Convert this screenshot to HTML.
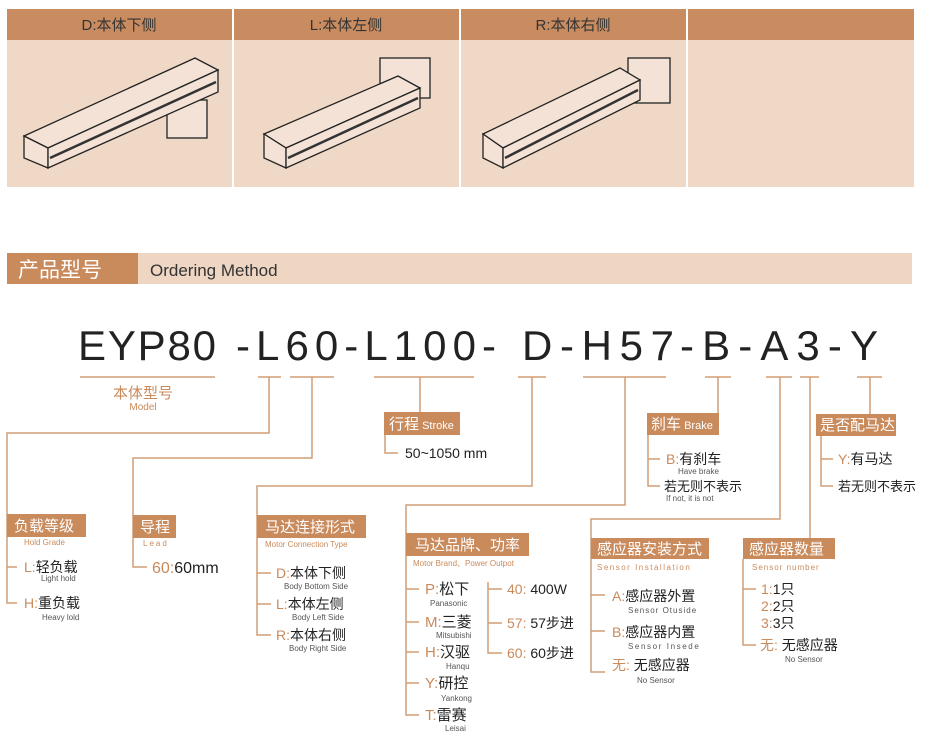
<!DOCTYPE html>
<html><head><meta charset="utf-8"><style>
html,body{margin:0;padding:0;background:#fff;width:925px;height:734px;overflow:hidden}
svg{display:block}
text{font-family:"Liberation Sans","Noto Sans CJK SC",sans-serif}
.h{font-size:15px;fill:#333;text-anchor:middle}
.w{fill:#fff;font-size:15px}
.t{fill:#c98a5c}
.k{fill:#222}
.s{font-size:8px;fill:#555}
.st{font-size:8px;fill:#c98a5c}
.ln{stroke:#d29e77;stroke-width:1.5;fill:none}
.dr{stroke:#222;stroke-width:1.3;fill:#f3e2d5}
.dk{stroke:#333;stroke-width:2.5;fill:none}
</style></head><body>
<svg width="925" height="734" viewBox="0 0 925 734">
<g>
<rect x="7" y="9" width="225" height="31" fill="#c98c60"/><rect x="7" y="40" width="225" height="147" fill="#efd8c6"/>
<rect x="234" y="9" width="225" height="31" fill="#c98c60"/><rect x="234" y="40" width="225" height="147" fill="#efd8c6"/>
<rect x="461" y="9" width="225" height="31" fill="#c98c60"/><rect x="461" y="40" width="225" height="147" fill="#efd8c6"/>
<rect x="688" y="9" width="226" height="31" fill="#c98c60"/><rect x="688" y="40" width="226" height="147" fill="#efd8c6"/>
<text x="119" y="30" class="h">D:本体下侧</text>
<text x="346" y="30" class="h">L:本体左侧</text>
<text x="573" y="30" class="h">R:本体右侧</text>
</g>
<g>
<rect x="167" y="100" width="40" height="38" class="dr" fill="#eee"/>
<polygon points="24,136 195,58 218,70 48,148" class="dr"/>
<polygon points="24,136 48,148 48,168 24,158" class="dr"/>
<polygon points="48,148 218,70 218,92 48,168" class="dr"/>
<path d="M50 158L216 82" class="dk"/>
<rect x="380" y="58" width="50" height="40" class="dr" fill="#eee"/>
<polygon points="264,134 398,76 420,88 286,148" class="dr"/>
<polygon points="264,134 286,148 286,168 264,158" class="dr"/>
<polygon points="286,148 420,88 420,108 286,168" class="dr"/>
<path d="M288 158L418 98" class="dk"/>
<rect x="628" y="58" width="42" height="45" class="dr" fill="#eee"/>
<polygon points="483,134 620,68 640,80 503,148" class="dr"/>
<polygon points="483,134 503,148 503,168 483,158" class="dr"/>
<polygon points="503,148 640,80 640,100 503,168" class="dr"/>
<path d="M505 158L638 90" class="dk"/>
</g>
<rect x="7" y="253" width="905" height="31" fill="#efd6c3"/>
<rect x="7" y="253" width="131" height="31" fill="#c98a5c"/>
<text x="18" y="277" class="w" style="font-size:21px">产品型号</text>
<text x="150" y="276" style="font-size:17px;fill:#333">Ordering Method</text>
<g style="font-size:42px;fill:#222">
<text x="78" y="360" textLength="138" lengthAdjust="spacing">EYP80</text>
<text x="236" y="360" textLength="260" lengthAdjust="spacing">-L60-L100-</text>
<text x="522" y="360" textLength="152" lengthAdjust="spacing">D-H57</text>
<text x="680" y="360" textLength="198" lengthAdjust="spacing">-B-A3-Y</text>
</g>
<g class="ln">
<path d="M80 377H215M258 377H281M290 377H334M374 377H474M518 377H546M583 377H666M705 377H731M766 377H792M800 377H819M857 377H882"/>
<path d="M269 377V433H7V603H17M7 567H17"/>
<path d="M312 377V458H133V567H147"/>
<path d="M420 377V412M385 435V453H398"/>
<path d="M532 377V486H257V635H271M257 573H271M257 604H271"/>
<path d="M625 377V505H406V715H419M406 589H419M406 622H419M406 652H419M406 683H419"/>
<path d="M488 582V653H502M488 589H502M488 623H502"/>
<path d="M718 377V413M648 435V486H660M648 459H660"/>
<path d="M780 377V519H591V672H605M591 595H605M591 631H605"/>
<path d="M810 377V538M743 559V645H756M743 589H756"/>
<path d="M870 377V414M821 435V486H833M821 459H833"/>
</g>
<text x="143" y="398" class="t" style="font-size:15px;text-anchor:middle">本体型号</text>
<text x="143" y="410" class="t" style="font-size:10px;text-anchor:middle">Model</text>
<rect x="384" y="412" width="76" height="23" fill="#c98a5c"/>
<text x="389" y="429" class="w">行程<tspan style="font-size:11px"> Stroke</tspan></text>
<text x="405" y="458" class="k" style="font-size:14px">50~1050 mm</text>
<rect x="647" y="413" width="72" height="22" fill="#c98a5c"/>
<text x="651" y="429" class="w">刹车<tspan style="font-size:11px"> Brake</tspan></text>
<text x="666" y="464" class="k" style="font-size:14px"><tspan class="t">B:</tspan>有刹车</text>
<text x="678" y="474" class="s">Have brake</text>
<text x="664" y="491" class="k" style="font-size:13px">若无则不表示</text>
<text x="666" y="501" class="s">If not, it is not</text>
<rect x="816" y="414" width="80" height="22" fill="#c98a5c"/>
<text x="820" y="430" class="w">是否配马达</text>
<text x="838" y="464" class="k" style="font-size:14px"><tspan class="t">Y:</tspan>有马达</text>
<text x="838" y="491" class="k" style="font-size:13px">若无则不表示</text>
<rect x="7" y="514" width="79" height="23" fill="#c98a5c"/>
<text x="14" y="531" class="w">负载等级</text>
<text x="24" y="545" class="st">Hold Grade</text>
<text x="24" y="572" class="k" style="font-size:14px"><tspan class="t">L:</tspan>轻负载</text>
<text x="41" y="581" class="s">Light hold</text>
<text x="24" y="608" class="k" style="font-size:14px"><tspan class="t">H:</tspan>重负载</text>
<text x="42" y="620" class="s">Heavy lold</text>
<rect x="133" y="515" width="43" height="23" fill="#c98a5c"/>
<text x="140" y="532" class="w">导程</text>
<text x="143" y="546" class="st" style="letter-spacing:2px">Lead</text>
<text x="152" y="573" class="k" style="font-size:16px"><tspan class="t">60:</tspan>60mm</text>
<rect x="257" y="515" width="109" height="23" fill="#c98a5c"/>
<text x="265" y="532" class="w">马达连接形式</text>
<text x="265" y="547" class="st">Motor Connection Type</text>
<text x="276" y="578" class="k" style="font-size:14px"><tspan class="t">D:</tspan>本体下侧</text>
<text x="284" y="589" class="s">Body Bottom Side</text>
<text x="276" y="609" class="k" style="font-size:14px"><tspan class="t">L:</tspan>本体左侧</text>
<text x="292" y="620" class="s">Body Left Side</text>
<text x="276" y="640" class="k" style="font-size:14px"><tspan class="t">R:</tspan>本体右侧</text>
<text x="289" y="651" class="s">Body Right Side</text>
<rect x="406" y="533" width="123" height="23" fill="#c98a5c"/>
<text x="415" y="550" class="w">马达品牌、功率</text>
<text x="413" y="566" class="st">Motor Brand、Power Outpot</text>
<g class="k" style="font-size:15px">
<text x="425" y="594"><tspan class="t">P:</tspan>松下</text>
<text x="425" y="627"><tspan class="t">M:</tspan>三菱</text>
<text x="425" y="657"><tspan class="t">H:</tspan>汉驱</text>
<text x="425" y="688"><tspan class="t">Y:</tspan>研控</text>
<text x="425" y="720"><tspan class="t">T:</tspan>雷赛</text>
<text x="507" y="594" style="font-size:14px"><tspan class="t">40:</tspan> 400W</text>
<text x="507" y="628" style="font-size:14px"><tspan class="t">57:</tspan> 57步进</text>
<text x="507" y="658" style="font-size:14px"><tspan class="t">60:</tspan> 60步进</text>
</g>
<text x="430" y="606" class="s">Panasonic</text>
<text x="436" y="638" class="s">Mitsubishi</text>
<text x="446" y="669" class="s">Hanqu</text>
<text x="441" y="701" class="s">Yankong</text>
<text x="445" y="731" class="s">Leisai</text>
<rect x="591" y="538" width="118" height="21" fill="#c98a5c"/>
<text x="597" y="554" class="w">感应器安装方式</text>
<text x="597" y="570" class="st" style="letter-spacing:1.5px">Sensor Installation</text>
<g class="k" style="font-size:14px">
<text x="612" y="601"><tspan class="t">A:</tspan>感应器外置</text>
<text x="612" y="637"><tspan class="t">B:</tspan>感应器内置</text>
<text x="612" y="670"><tspan class="t">无:</tspan> 无感应器</text>
</g>
<text x="628" y="613" class="s" style="letter-spacing:1px">Sensor Otuside</text>
<text x="628" y="649" class="s" style="letter-spacing:1.6px">Sensor Insede</text>
<text x="637" y="683" class="s">No Sensor</text>
<rect x="743" y="538" width="92" height="21" fill="#c98a5c"/>
<text x="749" y="554" class="w">感应器数量</text>
<text x="752" y="570" class="st" style="letter-spacing:1px">Sensor number</text>
<g class="k" style="font-size:14px">
<text x="761" y="594"><tspan class="t">1:</tspan>1只</text>
<text x="761" y="611"><tspan class="t">2:</tspan>2只</text>
<text x="761" y="628"><tspan class="t">3:</tspan>3只</text>
<text x="760" y="650"><tspan class="t">无:</tspan> 无感应器</text>
</g>
<text x="785" y="662" class="s">No Sensor</text>
</svg>
</body></html>
